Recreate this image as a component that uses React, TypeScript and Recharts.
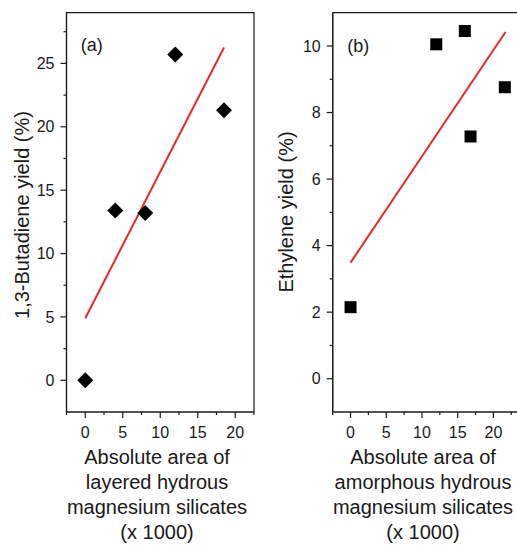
import { ComposedChart, Scatter, XAxis, YAxis, ReferenceArea, Label } from "recharts";

// panel (a): layered hydrous magnesium silicates vs 1,3-butadiene yield
const layeredArea = [0, 4, 8, 12, 18.5];
const butadieneYield = [0, 13.4, 13.2, 25.7, 21.3];
const butadieneFitX = [0, 18.5];
const butadieneFitY = [4.9, 26.25];

// panel (b): amorphous hydrous magnesium silicates vs ethylene yield
const amorphousArea = [0, 12, 16, 16.8, 21.6];
const ethyleneYield = [2.15, 10.05, 10.45, 7.28, 8.76];
const ethyleneFitX = [0, 21.7];
const ethyleneFitY = [3.49, 10.42];

const xTicksA = [-2.5, 0, 2.5, 5, 7.5, 10, 12.5, 15, 17.5, 20, 22.5];
const xTicksB = [-2.5, 0, 2.5, 5, 7.5, 10, 12.5, 15, 17.5, 20, 22.5];
const xMajor = [0, 5, 10, 15, 20];
const yTicksA = [0, 2.5, 5, 7.5, 10, 12.5, 15, 17.5, 20, 22.5, 25, 27.5];
const yMajorA = [0, 5, 10, 15, 20, 25];
const yTicksB = [0, 1, 2, 3, 4, 5, 6, 7, 8, 9, 10];
const yMajorB = [0, 2, 4, 6, 8, 10];

const xTitleA = ["Absolute area of", "layered hydrous", "magnesium silicates", "(x 1000)"];
const xTitleB = ["Absolute area of", "amorphous hydrous", "magnesium silicates", "(x 1000)"];

const FONT = '"Liberation Sans", Arial, sans-serif';
const INK = "#1a1a1a";
const RED = "#e8282b";

const toPts = (xs: number[], ys: number[]) => xs.map((x, i) => ({ x, y: ys[i] }));

const Diamond = (p: any) => {
  const { cx, cy } = p;
  const r = 8;
  return <polygon points={`${cx},${cy - r} ${cx + r},${cy} ${cx},${cy + r} ${cx - r},${cy}`} fill="#000" />;
};

const Square = (p: any) => <rect x={p.cx - 6} y={p.cy - 6} width={12} height={12} fill="#000" />;

const NoDot = () => <g />;

// draw ticks ourselves so minor ticks get a shorter line and no label
const makeXTick = (majors: number[]) => (p: any) => {
  const { x, y, payload } = p;
  const axisY = y - 15;
  const major = majors.includes(payload.value);
  return (
    <g>
      <line x1={x} x2={x} y1={axisY} y2={axisY + (major ? 6 : 3)} stroke={INK} strokeWidth={1.2} />
      {major && (
        <text x={x} y={y} dy="0.71em" textAnchor="middle" fontSize={16} fill={INK} fontFamily={FONT}>
          {payload.value}
        </text>
      )}
    </g>
  );
};

const makeYTick = (majors: number[]) => (p: any) => {
  const { x, y, payload } = p;
  const axisX = x + 12;
  const major = majors.includes(payload.value);
  return (
    <g>
      <line x1={axisX} x2={axisX - (major ? 6 : 3)} y1={y} y2={y} stroke={INK} strokeWidth={1.2} />
      {major && (
        <text x={x} y={y} dy="0.355em" textAnchor="end" fontSize={16} fill={INK} fontFamily={FONT}>
          {payload.value}
        </text>
      )}
    </g>
  );
};

interface PanelProps {
  left: number;
  width: number;
  yAxisWidth: number;
  marginRight: number;
  xDomain: [number, number];
  yDomain: [number, number];
  xTicks: number[];
  yTicks: number[];
  yMajor: number[];
  points: { x: number; y: number }[];
  fit: { x: number; y: number }[];
  shape: (p: any) => any;
  tag: string;
  tagX: number;
  tagY: number;
  yTitle: string;
  yTitleX: number;
  yTitleY: number;
  xTitle: string[];
  xTitleX: number;
}

function Panel(c: PanelProps) {
  return (
    <div style={{ position: "absolute", left: c.left, top: 0 }}>
      <ComposedChart width={c.width} height={545} margin={{ top: 12.7, right: c.marginRight, left: 0, bottom: 0 }}>
        <XAxis
          type="number"
          dataKey="x"
          domain={c.xDomain}
          ticks={c.xTicks}
          interval={0}
          allowDataOverflow
          height={133}
          tickSize={6}
          tickMargin={9}
          tickLine={false}
          axisLine={{ stroke: INK, strokeWidth: 1.2 }}
          tick={makeXTick(xMajor)}
        >
          <Label
            content={() => (
              <text textAnchor="middle" fontSize={20} fill={INK} fontFamily={FONT}>
                {c.xTitle.map((t, i) => (
                  <tspan key={i} x={c.xTitleX} y={463.5 + i * 25}>
                    {t}
                  </tspan>
                ))}
              </text>
            )}
          />
        </XAxis>
        <YAxis
          type="number"
          dataKey="y"
          domain={c.yDomain}
          ticks={c.yTicks}
          interval={0}
          allowDataOverflow
          width={c.yAxisWidth}
          tickSize={6}
          tickMargin={6}
          tickLine={false}
          axisLine={{ stroke: INK, strokeWidth: 1.2 }}
          tick={makeYTick(c.yMajor)}
        >
          <Label
            content={() => (
              <text
                x={c.yTitleX}
                y={c.yTitleY}
                transform={`rotate(-90 ${c.yTitleX} ${c.yTitleY})`}
                textAnchor="middle"
                dy="0.36em"
                fontSize={20}
                fill={INK}
                fontFamily={FONT}
              >
                {c.yTitle}
              </text>
            )}
          />
        </YAxis>
        <ReferenceArea
          x1={c.xDomain[0]}
          x2={c.xDomain[1]}
          y1={c.yDomain[0]}
          y2={c.yDomain[1]}
          fill="none"
          stroke={INK}
          strokeWidth={1.2}
          ifOverflow="visible"
          label={{
            content: () => (
              <text x={c.tagX} y={c.tagY} dy="0.36em" fontSize={18} fill={INK} fontFamily={FONT}>
                {c.tag}
              </text>
            ),
          }}
        />
        <Scatter data={c.fit} line={{ stroke: RED, strokeWidth: 2 }} shape={NoDot} isAnimationActive={false} />
        <Scatter data={c.points} shape={c.shape} isAnimationActive={false} />
      </ComposedChart>
    </div>
  );
}

export default function App() {
  return (
    <div
      style={{
        position: "absolute",
        left: 0,
        top: 0,
        width: 517,
        height: 545,
        overflow: "hidden",
        background: "#fff",
      }}
    >
      <Panel
        left={0}
        width={260}
        yAxisWidth={66.5}
        marginRight={6}
        xDomain={[-2.5, 22.5]}
        yDomain={[-2.5, 29]}
        xTicks={xTicksA}
        yTicks={yTicksA}
        yMajor={yMajorA}
        points={toPts(layeredArea, butadieneYield)}
        fit={toPts(butadieneFitX, butadieneFitY)}
        shape={Diamond}
        tag="(a)"
        tagX={80.7}
        tagY={44.7}
        yTitle="1,3-Butadiene yield (%)"
        yTitleX={22}
        yTitleY={215}
        xTitle={xTitleA}
        xTitleX={157}
      />
      <Panel
        left={260}
        width={280}
        yAxisWidth={72.7}
        marginRight={10.9}
        xDomain={[-2.5, 25]}
        yDomain={[-1, 11]}
        xTicks={xTicksB}
        yTicks={yTicksB}
        yMajor={yMajorB}
        points={toPts(amorphousArea, ethyleneYield)}
        fit={toPts(ethyleneFitX, ethyleneFitY)}
        shape={Square}
        tag="(b)"
        tagX={87.3}
        tagY={46}
        yTitle="Ethylene yield (%)"
        yTitleX={25.5}
        yTitleY={212}
        xTitle={xTitleB}
        xTitleX={163}
      />
    </div>
  );
}
